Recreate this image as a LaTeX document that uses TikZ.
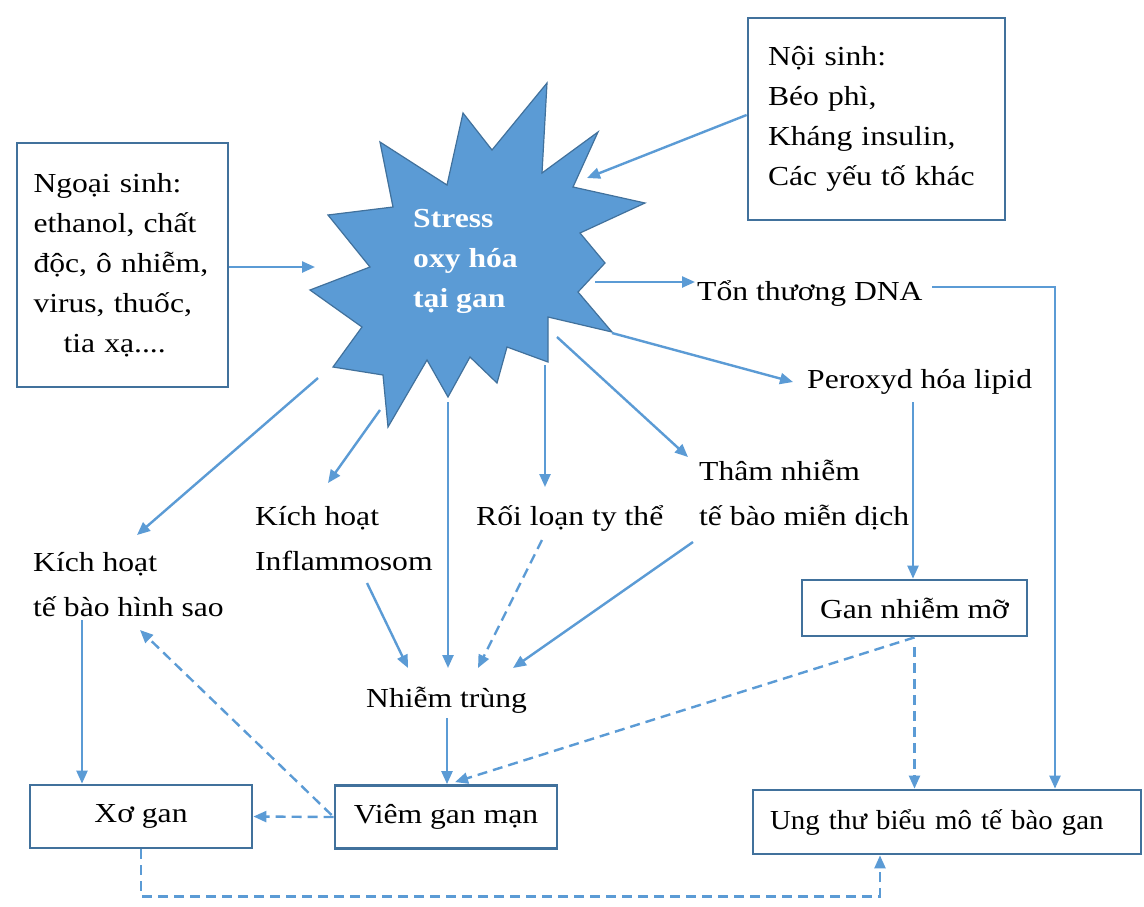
\documentclass[tikz,border=0pt]{standalone}
\usepackage{fontspec}
\setmainfont[FakeStretch=1.15]{Liberation Serif}
\newfontfamily\ungfont[FakeStretch=1.05]{Liberation Serif}
\usetikzlibrary{arrows.meta,calc}
\definecolor{boxblue}{HTML}{41719C}
\definecolor{arrblue}{HTML}{5B9BD5}
\definecolor{starfill}{HTML}{5B9BD5}
\tikzset{
  box/.style={draw=boxblue, line width=2.8pt, inner sep=0pt, font=\fontsize{27.5}{40}\selectfont},
  lbl/.style={inner sep=0pt, anchor=base west, font=\fontsize{27.5}{45}\selectfont},
  arr/.style={draw=arrblue, line width=2.4pt, -{Triangle[length=13pt,width=11pt]}},
  darr/.style={arr, dash pattern=on 10pt off 6pt},
}
\begin{document}
\begin{tikzpicture}[x=1pt,y=-1pt]
\useasboundingbox (0,0) rectangle (1144,906);
\fill[white] (0,0) rectangle (1144,906);

% star burst
\filldraw[fill=starfill, draw=boxblue, line width=1.2pt, line join=miter]
 (547,83) -- (542,173) -- (598,132) -- (573,187) -- (645,203) -- (580,233) --
 (605,263) -- (578,292) -- (612,332) -- (548,317) -- (548,362) -- (507,347) --
 (497,383) -- (470,357) -- (448,397) -- (427,360) -- (388,427) -- (383,375) --
 (333,367) -- (362,327) -- (310,290) -- (370,267) -- (328,215) -- (393,207) --
 (380,142) -- (447,185) -- (463,113) -- (492,150) -- cycle;
\node[inner sep=0pt, anchor=base west, text=white, font=\fontsize{27.5}{40}\selectfont\bfseries]
  (stress) at (413,227) {\begin{tabular}[t]{@{}l@{}}Stress\\oxy hóa\\tại gan\end{tabular}};

% boxes
\node[box, minimum width=211pt, minimum height=244pt, text width=178pt, align=left] (ngoai) at (122.5,265)
  {Ngoại sinh:\\ethanol, chất\\độc, ô nhiễm,\\virus, thuốc,\\\hspace*{30pt}tia xạ....};
\node[box, minimum width=257pt, minimum height=202pt, text width=217pt, align=left] (noi) at (876.5,119)
  {Nội sinh:\\Béo phì,\\Kháng insulin,\\Các yếu tố khác};
\node[box, minimum width=225pt, minimum height=56pt] (gan) at (914.5,608) {Gan nhiễm mỡ};
\node[box, minimum width=388pt, minimum height=64pt, text width=354pt, align=left] (ung) at (947,822)
  {\ungfont Ung thư biểu mô tế bào gan};
\node[box, minimum width=222pt, minimum height=63pt] (xo) at (141,816.5) {Xơ gan};
\node[box, minimum width=222pt, minimum height=63pt] (viem) at (446,817) {Viêm gan mạn};

% free labels
\node[lbl] (dna) at (697,300) {Tổn thương DNA};
\node[lbl] (perox) at (807,388) {Peroxyd hóa lipid};
\node[lbl] (tham) at (699,480) {\begin{tabular}[t]{@{}l@{}}Thâm nhiễm\\tế bào miễn dịch\end{tabular}};
\node[lbl] (roi) at (476,525) {Rối loạn ty thể};
\node[lbl] (infl) at (255,525) {\begin{tabular}[t]{@{}l@{}}Kích hoạt\\Inflammosom\end{tabular}};
\node[lbl] (kich) at (33,571) {\begin{tabular}[t]{@{}l@{}}Kích hoạt\\tế bào hình sao\end{tabular}};
\node[lbl] (nhiem) at (366,707) {Nhiễm trùng};

% points on the star outline
\coordinate (sL) at (315,267);
\coordinate (sTR) at (587,178);
\coordinate (sDNA) at (595,282);
\coordinate (sPer) at (612,333);
\coordinate (sTham) at (557,337);
\coordinate (sRoi) at (545,365);
\coordinate (sNhiem) at (448,402);
\coordinate (sInfl) at (380,410);
\coordinate (sKich) at (318,378);

% inputs
\draw[arr] (ngoai.east |- sL) -- (sL);
\draw[arr] ($(noi.west)+(0,-4)$) -- (sTR);

% outputs of the star
\draw[arr] (sDNA) -- ($(dna.base west)+(-2,-18)$);
\draw[arr] (sPer) -- ($(perox.base west)+(-14,-6)$);
\draw[arr] (sTham) -- ($(tham.base west)+(-11,-23)$);
\draw[arr] (sRoi) -- ($(roi.base west)+(69,-38)$);
\draw[arr] (sNhiem) -- ($(nhiem.base west)+(82,-39)$);
\draw[arr] (sInfl) -- ($(infl.base west)+(73,-42)$);
\draw[arr] (sKich) -- ($(kich.base west)+(104,-36)$);

% into Nhiem trung
\draw[arr] ($(infl.base west)+(112,58)$) -- ($(nhiem.base west)+(42,-39)$);
\draw[darr] ($(roi.base west)+(66,15)$) -- ($(nhiem.base west)+(112,-39)$);
\draw[arr] ($(tham.base west)+(-6,62)$) -- ($(nhiem.base west)+(147,-39)$);
\draw[arr] ($(nhiem.base west)+(81,11)$) -- ($(viem.north)+(1,0)$);

% left column
\coordinate (k1) at ($(kich.base west)+(49,49)$);
\draw[arr] (k1) -- (k1 |- xo.north);
\draw[darr] ($(viem.west)+(-2,-2)$) -- ($(kich.base west)+(107,59)$);
\draw[darr] (viem.west) -- (xo.east);

% right column
\coordinate (p1) at ($(perox.base west)+(106,14)$);
\draw[arr] (p1) -- (p1 |- gan.north);
\coordinate (d1) at ($(dna.base west)+(235,-13)$);
\draw[arr] (d1) -| ($(ung.north)+(108,0)$);
\draw[darr] ($(gan.south)+(0,10)$) -- (gan.south |- ung.north);
\draw[darr] (gan.south) -- ($(viem.north)+(9,-2)$);

% bottom
\coordinate (u1) at ($(ung.south)+(-67,41)$);
\draw[darr] (xo.south) |- (u1) -- ($(ung.south)+(-67,0)$);
\end{tikzpicture}
\end{document}
